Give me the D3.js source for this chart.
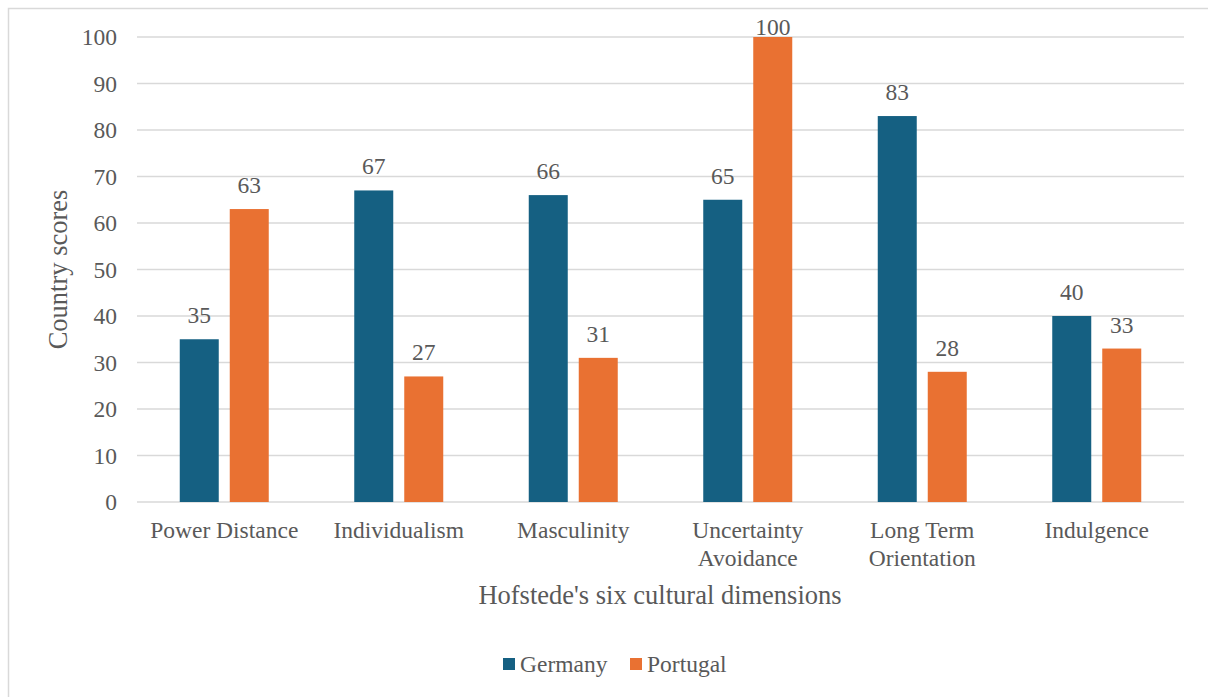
<!DOCTYPE html>
<html>
<head>
<meta charset="utf-8">
<script src="https://cdn.jsdelivr.net/npm/d3@7"></script>
<style>
  html, body { margin: 0; padding: 0; background: #fff; }
  svg { display: block; }
  text { font-family: "Liberation Serif", "Times New Roman", serif; fill: #595959; }
</style>
</head>
<body>
<script>
// Hofstede scores for the two countries
const dimensions = ["Power Distance", "Individualism", "Masculinity", "Uncertainty Avoidance", "Long Term Orientation", "Indulgence"];
const dimensionLines = [["Power Distance"], ["Individualism"], ["Masculinity"], ["Uncertainty", "Avoidance"], ["Long Term", "Orientation"], ["Indulgence"]];
const countries = ["Germany", "Portugal"];
const germany = [35, 67, 66, 65, 83, 40];
const portugal = [63, 27, 31, 100, 28, 33];
const yTicks = [0, 10, 20, 30, 40, 50, 60, 70, 80, 90, 100];
const colors = ["#156082", "#E97132"];

const W = 1208, H = 697;
const plot = { left: 137, right: 1184, top: 37, bottom: 502 };
const fs = 23.5;

const svg = d3.select("body").append("svg").attr("width", W).attr("height", H);

// outer chart frame
svg.append("rect")
  .attr("x", 8.5).attr("y", 8.5).attr("width", W + 10).attr("height", H + 10)
  .attr("fill", "#fff").attr("stroke", "#d9d9d9").attr("stroke-width", 1.5);

const x = d3.scaleBand().domain(dimensions).range([plot.left, plot.right]).paddingInner(0).paddingOuter(0);
const y = d3.scaleLinear().domain([0, 100]).range([plot.bottom, plot.top]);

// gridlines
svg.append("g").selectAll("line").data(yTicks).join("line")
  .attr("x1", plot.left).attr("x2", plot.right)
  .attr("y1", d => y(d)).attr("y2", d => y(d))
  .attr("stroke", "#d9d9d9").attr("stroke-width", 1.5);

// y tick labels
const yAxis = d3.axisLeft(y).tickValues(yTicks).tickSize(0).tickPadding(0);
const gy = svg.append("g").attr("transform", `translate(${plot.left - 20},0)`).call(yAxis);
gy.attr("font-family", null).attr("font-size", null);
gy.select(".domain").remove();
gy.selectAll("text").attr("font-size", fs).attr("dy", "0.33em").attr("fill", "#595959");

// bars with value labels (labels kept inside the chart area)
const barW = 39, gap = 11;
const series = [germany, portugal];
series.forEach((vals, si) => {
  const g = svg.append("g");
  const offset = si === 0 ? -(gap / 2 + barW) : gap / 2;
  const xc = (i) => x(dimensions[i]) + x.bandwidth() / 2 + offset;
  g.selectAll("rect").data(vals).join("rect")
    .attr("x", (d, i) => xc(i))
    .attr("y", d => y(d))
    .attr("width", barW)
    .attr("height", d => y(0) - y(d))
    .attr("fill", colors[si]);
  g.selectAll("text").data(vals).join("text")
    .attr("x", (d, i) => xc(i) + barW / 2)
    .attr("y", d => Math.max(y(d) - 16, plot.top - 2))
    .attr("text-anchor", "middle")
    .attr("font-size", fs)
    .text(d => d);
});

// category labels
const gx = svg.append("g");
dimensionLines.forEach((lines, i) => {
  const cx = x(dimensions[i]) + x.bandwidth() / 2;
  const t = gx.append("text")
    .attr("x", cx)
    .attr("y", 538)
    .attr("text-anchor", "middle")
    .attr("font-size", fs);
  lines.forEach((ln, k) => {
    t.append("tspan").attr("x", cx).attr("dy", k === 0 ? 0 : 28).text(ln);
  });
});

// axis titles
svg.append("text")
  .attr("x", 660).attr("y", 604)
  .attr("text-anchor", "middle").attr("font-size", 26.5)
  .text("Hofstede's six cultural dimensions");

svg.append("text")
  .attr("transform", `translate(67,${(plot.top + plot.bottom) / 2}) rotate(-90)`)
  .attr("text-anchor", "middle").attr("font-size", 26.5)
  .text("Country scores");

// legend
const legend = svg.append("g");
const legendX = [503, 630];
countries.forEach((c, i) => {
  legend.append("rect").attr("x", legendX[i]).attr("y", 658).attr("width", 12).attr("height", 12).attr("fill", colors[i]);
  legend.append("text").attr("x", legendX[i] + 17).attr("y", 672).attr("font-size", fs).text(c);
});
</script>
</body>
</html>
